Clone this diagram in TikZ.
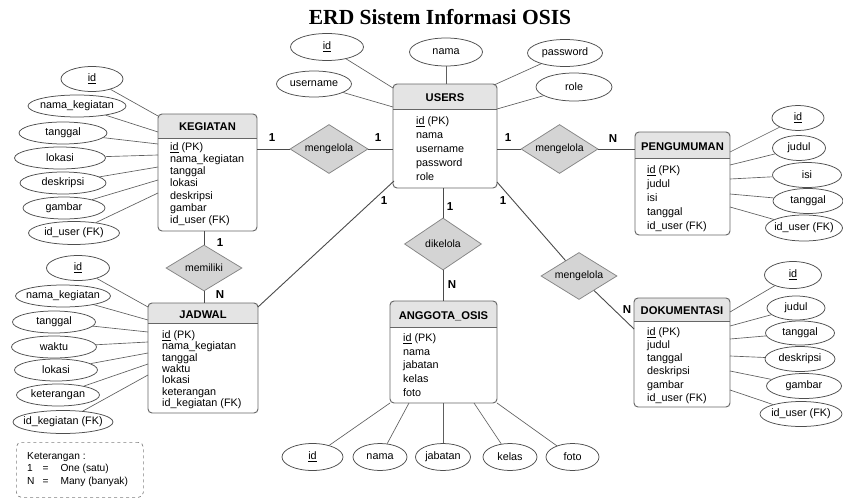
\documentclass[tikz,border=0pt]{standalone}
\usepackage{fontspec}
\setmainfont{Liberation Sans}
\newfontfamily\titlefont{Liberation Serif}
\usetikzlibrary{shapes.geometric,calc}
\definecolor{lncol}{HTML}{4A4A4A}
\definecolor{attrln}{HTML}{5E5E5E}
\definecolor{hdrcol}{HTML}{E4E4E4}
\definecolor{relfill}{HTML}{D4D4D4}
\definecolor{relline}{HTML}{858585}
\definecolor{entline}{HTML}{666666}
\definecolor{ellline}{HTML}{4E4E4E}

\tikzset{
  attr/.style={ellipse, draw=ellline, fill=white, line width=0.75pt, inner xsep=-5pt, inner ysep=0pt, font=\fontsize{10.8}{12}\selectfont},
  rel/.style={diamond, draw=relline, fill=relfill, line width=0.75pt, inner sep=0pt, aspect=1.6, font=\fontsize{10.5}{12}\selectfont},
  conn/.style={draw=lncol, line width=0.9pt},
  aline/.style={draw=attrln, line width=0.65pt},
  card/.style={font=\bfseries\fontsize{11.5}{13}\selectfont, inner sep=0pt},
  entbox/.style={rectangle, fill=white, inner sep=0pt, outer sep=0pt, rounded corners=4pt},
  enttitle/.style={font=\bfseries\fontsize{11.2}{13}\selectfont, inner sep=0pt, anchor=base},
  entbody/.style={align=left, anchor=north west, inner sep=0pt},
}

\newcommand\erEnt[7]{%
  \node[entbox, minimum width={#4-#2}, minimum height={#5-#3}] (#1) at ({(#2+#4)/2},{(#3+#5)/2}) {};
  \begin{scope}
    \clip[rounded corners=4pt] (#2,#3) rectangle (#4,#5);
    \fill[hdrcol] (#2,#3) rectangle (#4,#6);
  \end{scope}
  \draw[entline, line width=0.6pt] (#2,#6) -- (#4,#6);
  \draw[entline, line width=0.95pt, rounded corners=4pt] (#2,#3) rectangle (#4,#5);
  \node[enttitle] (#1-t) at ({(#2+#4)/2},{(#3+#6)/2+5}) {#7};
}

\begin{document}
\begin{tikzpicture}[x=1pt,y=-1pt]
\useasboundingbox[fill=white] (0,0) rectangle (843,500);

% title
\node[font=\titlefont\bfseries\fontsize{21.5}{24}\selectfont, inner sep=0pt] (title) at (440,17) {ERD Sistem Informasi OSIS};

% ---------- entities ----------
\erEnt{keg}{158}{114}{257}{231}{138}{KEGIATAN}
\node[entbody, font=\fontsize{10.8}{12.2}\selectfont] (keg-b) at (170,142.3)
  {\underline{id} (PK)\\nama\_kegiatan\\tanggal\\lokasi\\deskripsi\\gambar\\id\_user (FK)};

\erEnt{users}{393}{84}{497}{188}{109}{USERS}
\node[entbody, font=\fontsize{10.8}{14}\selectfont] (users-b) at (416,116.3)
  {\underline{id} (PK)\\nama\\username\\password\\role};

\erEnt{peng}{635}{132}{730}{235}{158}{PENGUMUMAN}
\node[entbody, font=\fontsize{10.8}{14}\selectfont] (peng-b) at (647,165.3)
  {\underline{id} (PK)\\judul\\isi\\tanggal\\id\_user (FK)};

\erEnt{jad}{148}{303}{258}{413}{323}{JADWAL}
\node[entbody, font=\fontsize{10.8}{11.4}\selectfont] (jad-b) at (162,330.3)
  {\underline{id} (PK)\\nama\_kegiatan\\tanggal\\waktu\\lokasi\\keterangan\\id\_kegiatan (FK)};

\erEnt{ang}{390}{301}{497}{403}{327}{ANGGOTA\_OSIS}
\node[entbody, font=\fontsize{10.8}{13.75}\selectfont] (ang-b) at (403,333.3)
  {\underline{id} (PK)\\nama\\jabatan\\kelas\\foto};

\erEnt{dok}{634}{298}{730}{407}{321}{DOKUMENTASI}
\node[entbody, font=\fontsize{10.8}{13.2}\selectfont] (dok-b) at (647,327.3)
  {\underline{id} (PK)\\judul\\tanggal\\deskripsi\\gambar\\id\_user (FK)};

% ---------- relationships ----------
\node[rel, minimum width=78, minimum height=49] (r1) at (329,149) {mengelola};
\node[rel, minimum width=77, minimum height=49] (r2) at (559.5,149) {mengelola};
\node[rel, minimum width=77, minimum height=52] (r3) at (443,244) {dikelola};
\node[rel, minimum width=76, minimum height=47] (r4) at (579,276) {mengelola};
\node[rel, minimum width=76, minimum height=46] (r5) at (204,268) {memiliki};

\draw[conn] (r1.west) -- (r1.west -| keg.east);
\draw[conn] (r1.east) -- (r1.east -| users.west);
\draw[conn] (r2.west) -- (r2.west -| users.east);
\draw[conn] (r2.east) -- (r2.east -| peng.west);
\draw[conn] (r3.north) -- (r3.north |- users.south);
\draw[conn] (r3.south) -- (r3.south |- ang.north);
\draw[conn] ($(users.south west)+(1,-7)$) -- ($(jad.north east)+(0,4)$);
\draw[conn] ($(users.south east)+(0,-6)$) -- (r4);
\draw[conn] (r4) -- ($(dok.north west)+(0,31)$);
\draw[conn] (r5.north) -- (r5.north |- keg.south);
\draw[conn] (r5.south) -- (r5.south |- jad.north);

% cardinalities
\node[card] (c1) at (272,138) {1};
\node[card] (c2) at (378,138) {1};
\node[card] (c3) at (508,138) {1};
\node[card] (c4) at (613,139) {N};
\node[card] (c5) at (384,201) {1};
\node[card] (c6) at (450,207) {1};
\node[card] (c7) at (503,201) {1};
\node[card] (c8) at (452,285) {N};
\node[card] (c9) at (627,310) {N};
\node[card] (c10) at (220,243) {1};
\node[card] (c11) at (220,295) {N};

% ---------- KEGIATAN attributes ----------
\node[attr, minimum width=62, minimum height=25] (k1) at (92,79) {\underline{id}};
\node[attr, minimum width=98, minimum height=22] (k2) at (77,106) {nama\_kegiatan};
\node[attr, minimum width=88, minimum height=22] (k3) at (63,133) {tanggal};
\node[attr, minimum width=91, minimum height=22] (k4) at (60,158) {lokasi};
\node[attr, minimum width=86, minimum height=22] (k5) at (63,183) {deskripsi};
\node[attr, minimum width=82, minimum height=22] (k6) at (64,208) {gambar};
\node[attr, minimum width=91, minimum height=23] (k7) at (74,233) {id\_user (FK)};
\draw[aline] (k1) -- ($(keg.north west)+(0,2)$);
\draw[aline] (k2) -- ($(keg.north west)+(0,18)$);
\draw[aline] (k3) -- ($(keg.north west)+(0,30)$);
\draw[aline] (k4) -- ($(keg.north west)+(0,41)$);
\draw[aline] (k5) -- ($(keg.north west)+(0,53)$);
\draw[aline] (k6) -- ($(keg.north west)+(0,66)$);
\draw[aline] (k7) -- ($(keg.north west)+(0,79)$);

% ---------- USERS attributes ----------
\node[attr, minimum width=73, minimum height=27] (u1) at (327,47) {\underline{id}};
\node[attr, minimum width=75, minimum height=26] (u2) at (314,84) {username};
\node[attr, minimum width=73, minimum height=28] (u3) at (446,52) {nama};
\node[attr, minimum width=75, minimum height=27] (u4) at (565,53) {password};
\node[attr, minimum width=76, minimum height=28] (u5) at (574,87) {role};
\draw[aline] (u1) -- ($(users.north west)+(0,4)$);
\draw[aline] (u2) -- ($(users.north west)+(0,23)$);
\draw[aline] (u3.south) -- (u3.south |- users.north);
\draw[aline] (u4) -- ($(users.north east)+(-3,1)$);
\draw[aline] (u5) -- ($(users.north east)+(0,25)$);

% ---------- PENGUMUMAN attributes ----------
\node[attr, minimum width=52, minimum height=25] (p1) at (798,118) {\underline{id}};
\node[attr, minimum width=53, minimum height=25] (p2) at (799,148) {judul};
\node[attr, minimum width=69, minimum height=25] (p3) at (807,175) {isi};
\node[attr, minimum width=70, minimum height=25] (p4) at (808,201) {tanggal};
\node[attr, minimum width=77, minimum height=26] (p5) at (804,228) {id\_user (FK)};
\draw[aline] (p1) -- ($(peng.north east)+(0,20)$);
\draw[aline] (p2) -- ($(peng.north east)+(0,33)$);
\draw[aline] (p3) -- ($(peng.north east)+(0,47)$);
\draw[aline] (p4) -- ($(peng.north east)+(0,62)$);
\draw[aline] (p5) -- ($(peng.north east)+(0,75)$);

% ---------- JADWAL attributes ----------
\node[attr, minimum width=63, minimum height=25] (j1) at (78,268) {\underline{id}};
\node[attr, minimum width=95, minimum height=22] (j2) at (63,296) {nama\_kegiatan};
\node[attr, minimum width=83, minimum height=22] (j3) at (54,322) {tanggal};
\node[attr, minimum width=85, minimum height=22] (j4) at (54,347) {waktu};
\node[attr, minimum width=83, minimum height=22] (j5) at (56,370) {lokasi};
\node[attr, minimum width=83, minimum height=22] (j6) at (58,395) {keterangan};
\node[attr, minimum width=100, minimum height=23] (j7) at (63,422) {id\_kegiatan (FK)};
\draw[aline] (j1) -- ($(jad.north west)+(0,4)$);
\draw[aline] (j2) -- ($(jad.north west)+(0,17)$);
\draw[aline] (j3) -- ($(jad.north west)+(0,29)$);
\draw[aline] (j4) -- ($(jad.north west)+(0,39)$);
\draw[aline] (j5) -- ($(jad.north west)+(0,50)$);
\draw[aline] (j6) -- ($(jad.north west)+(0,61)$);
\draw[aline] (j7) -- ($(jad.north west)+(0,72)$);

% ---------- ANGGOTA_OSIS attributes ----------
\node[attr, minimum width=61, minimum height=27] (a1) at (312.5,457) {\underline{id}};
\node[attr, minimum width=54, minimum height=27] (a2) at (380,457) {nama};
\node[attr, minimum width=55, minimum height=27] (a3) at (443,457) {jabatan};
\node[attr, minimum width=54, minimum height=27] (a4) at (510,457) {kelas};
\node[attr, minimum width=53, minimum height=27] (a5) at (572.5,457) {foto};
\draw[aline] (a1) -- (ang.south west);
\draw[aline] (a2) -- ($(ang.south west)+(19,0)$);
\draw[aline] (a3.north) -- (a3.north |- ang.south);
\draw[aline] (a4) -- ($(ang.south west)+(84,0)$);
\draw[aline] (a5) -- (ang.south east);

% ---------- DOKUMENTASI attributes ----------
\node[attr, minimum width=57, minimum height=27] (d1) at (793,275) {\underline{id}};
\node[attr, minimum width=58, minimum height=24] (d2) at (796,308) {judul};
\node[attr, minimum width=69, minimum height=24] (d3) at (800,333) {tanggal};
\node[attr, minimum width=70, minimum height=25] (d4) at (800,359) {deskripsi};
\node[attr, minimum width=75, minimum height=25] (d5) at (804,386) {gambar};
\node[attr, minimum width=82, minimum height=25] (d6) at (801,414) {id\_user (FK)};
\draw[aline] (d1) -- ($(dok.north east)+(0,14)$);
\draw[aline] (d2) -- ($(dok.north east)+(0,28)$);
\draw[aline] (d3) -- ($(dok.north east)+(0,41)$);
\draw[aline] (d4) -- ($(dok.north east)+(0,58)$);
\draw[aline] (d5) -- ($(dok.north east)+(0,73)$);
\draw[aline] (d6) -- ($(dok.north east)+(0,92)$);

% ---------- legend ----------
\node[draw=black!50, dashed, rounded corners=5pt, line width=0.7pt, minimum width=127, minimum height=55, anchor=north west, inner sep=0pt] (legend) at (16,442) {};
\node[anchor=north west, inner sep=0pt, font=\fontsize{10.2}{12.5}\selectfont] (legtxt) at (27,450.5)
  {\begin{tabular}{@{}l@{\hspace{8pt}}l@{\hspace{12pt}}l@{}}
   \multicolumn{3}{@{}l}{Keterangan :}\\
   1 & = & One (satu)\\
   N & = & Many (banyak)
   \end{tabular}};
\end{tikzpicture}
\end{document}
